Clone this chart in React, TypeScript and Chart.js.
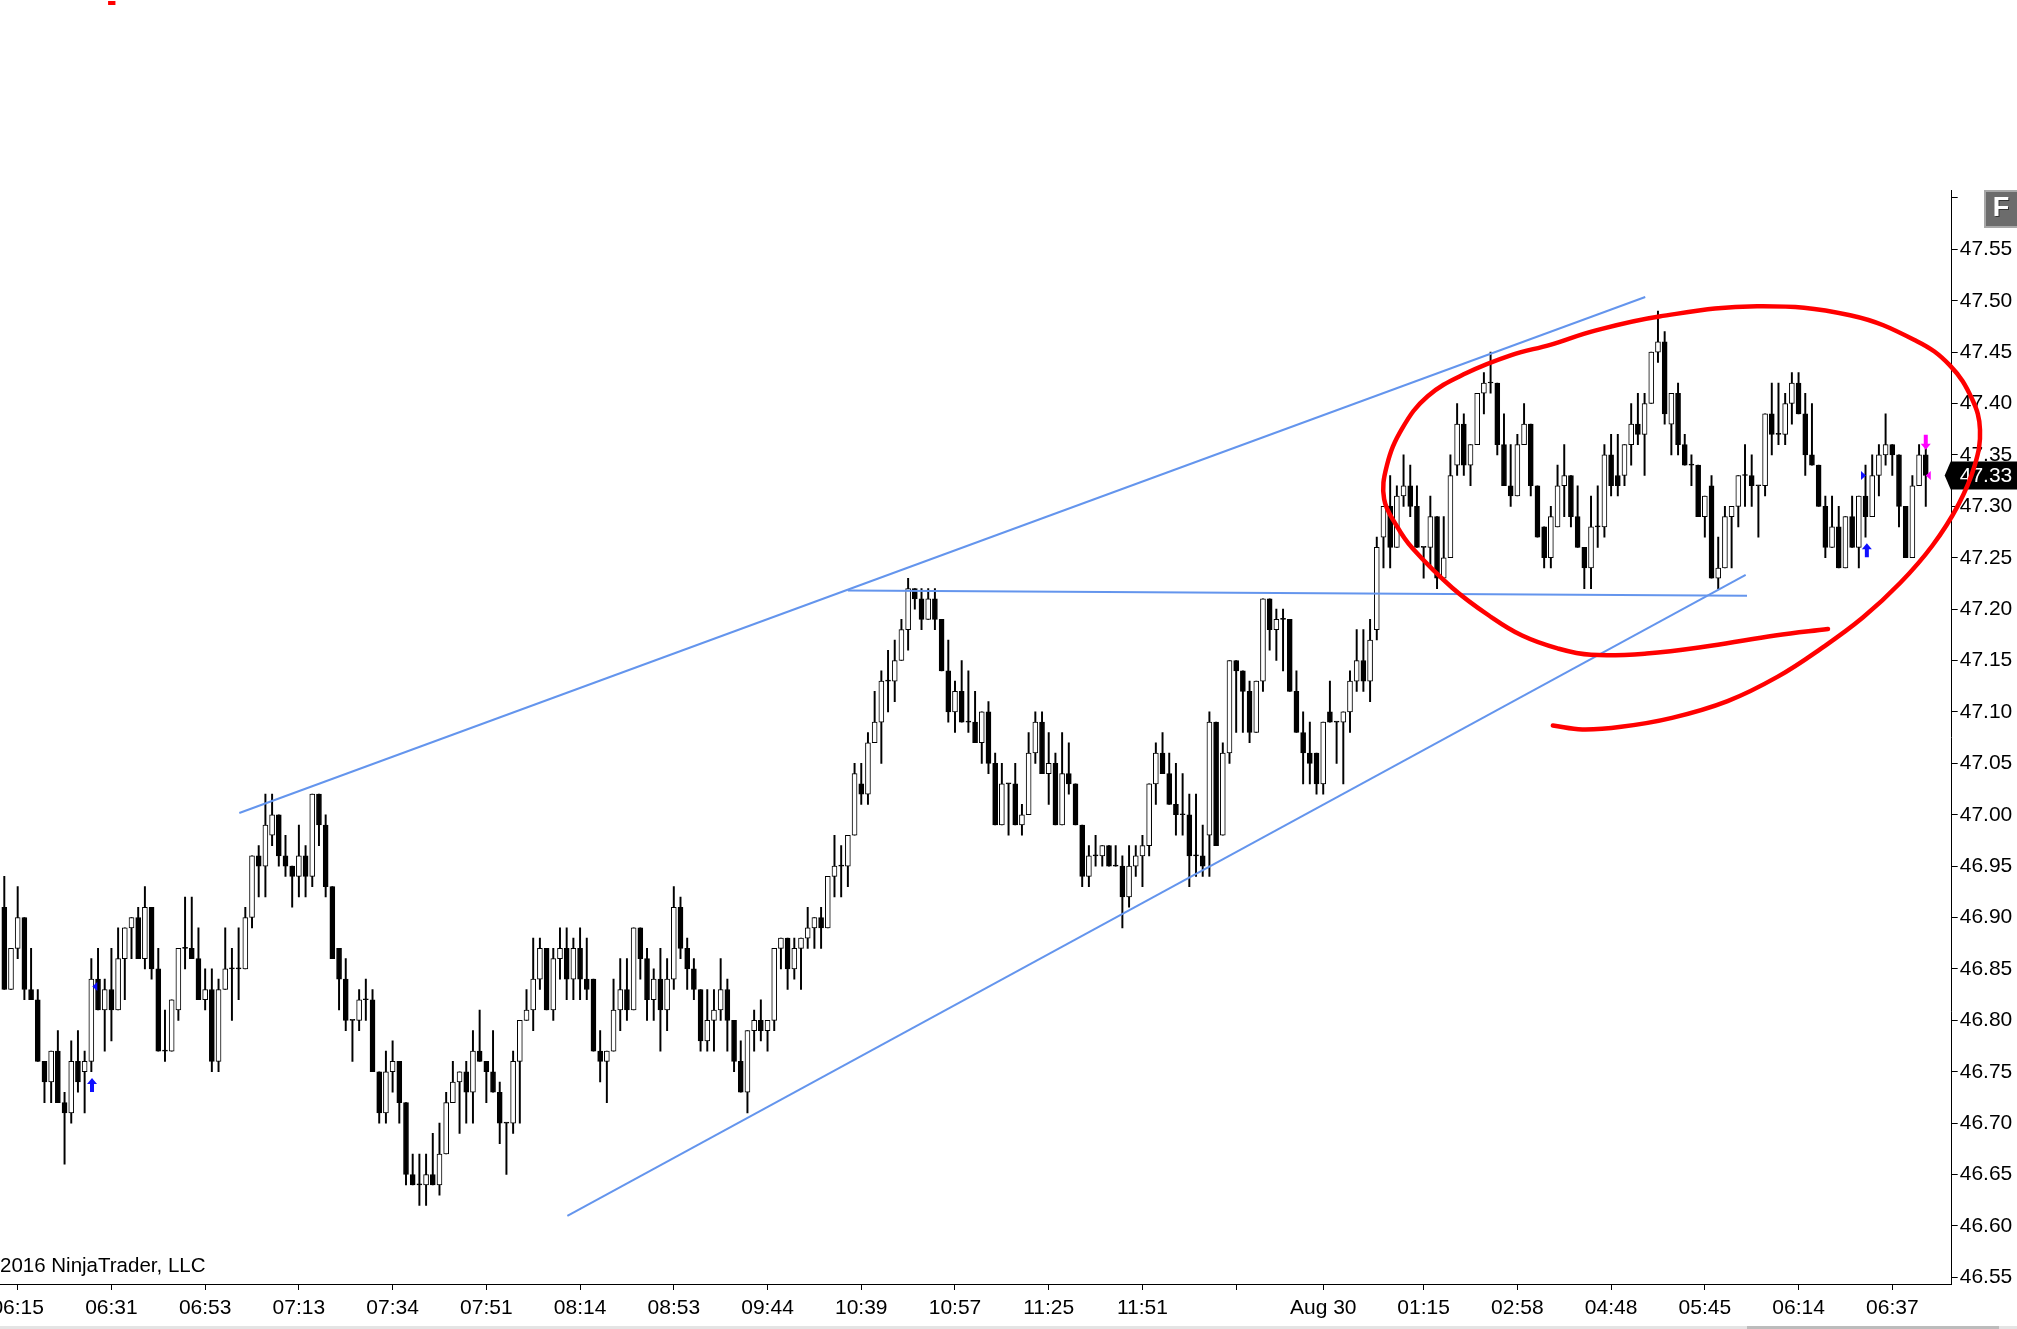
import React, { useEffect, useRef } from "react";
import { Chart, registerables } from "chart.js";

Chart.register(...registerables);

const FONT = "'Liberation Sans', Arial, Helvetica, sans-serif";

// ---------- candle data (CL, one bar per index) ----------
const opens = [
  46.91, 46.83, 46.87, 46.9, 46.83, 46.82, 46.76, 46.74, 46.77, 46.72,
  46.71, 46.76, 46.75, 46.76, 46.84, 46.81, 46.83, 46.81, 46.86, 46.89,
  46.9, 46.86, 46.91, 46.85, 46.77, 46.77, 46.81, 46.87, 46.87, 46.86,
  46.82, 46.83, 46.76, 46.83, 46.85, 46.85, 46.85, 46.9, 46.96, 46.95,
  46.98, 47.0, 46.96, 46.95, 46.94, 46.96, 46.94, 47.02, 46.99, 46.93,
  46.87, 46.84, 46.8, 46.8, 46.82, 46.82, 46.75, 46.71, 46.75, 46.76,
  46.72, 46.65, 46.64, 46.64, 46.65, 46.64, 46.67, 46.72, 46.74, 46.75,
  46.73, 46.77, 46.76, 46.75, 46.73, 46.7, 46.7, 46.76, 46.8, 46.81,
  46.84, 46.87, 46.81, 46.86, 46.87, 46.84, 46.87, 46.84, 46.84, 46.77,
  46.76, 46.77, 46.81, 46.83, 46.81, 46.89, 46.86, 46.82, 46.84, 46.81,
  46.84, 46.91, 46.87, 46.85, 46.83, 46.78, 46.8, 46.81, 46.83, 46.8,
  46.76, 46.73, 46.79, 46.8, 46.79, 46.8, 46.87, 46.88, 46.85, 46.87,
  46.88, 46.89, 46.9, 46.89, 46.94, 46.95, 46.95, 46.98, 47.03, 47.02,
  47.07, 47.09, 47.13, 47.13, 47.15, 47.18, 47.22, 47.21, 47.19, 47.21,
  47.19, 47.14, 47.1, 47.12, 47.09, 47.09, 47.07, 47.1, 47.05, 46.99,
  47.03, 47.03, 46.99, 47.0, 47.06, 47.09, 47.04, 47.05, 46.99, 47.04,
  47.03, 46.99, 46.94, 46.96, 46.96, 46.97, 46.95, 46.95, 46.92, 46.95,
  46.96, 46.97, 47.03, 47.06, 47.04, 47.01, 47.0, 47.0, 46.96, 46.96,
  46.98, 47.09, 46.98, 47.06, 47.15, 47.14, 47.12, 47.08, 47.13, 47.21,
  47.18, 47.19, 47.19, 47.12, 47.08, 47.06, 47.06, 47.03, 47.1, 47.09,
  47.09, 47.1, 47.13, 47.15, 47.13, 47.18, 47.27, 47.3, 47.26, 47.31,
  47.32, 47.3, 47.26, 47.26, 47.29, 47.23, 47.25, 47.34, 47.38, 47.34,
  47.36, 47.41, 47.42, 47.42, 47.36, 47.32, 47.31, 47.36, 47.38, 47.32,
  47.28, 47.25, 47.28, 47.32, 47.33, 47.29, 47.26, 47.24, 47.28, 47.28,
  47.35, 47.33, 47.33, 47.36, 47.38, 47.37, 47.4, 47.45, 47.46, 47.38,
  47.41, 47.36, 47.34, 47.34, 47.29, 47.32, 47.23, 47.24, 47.29, 47.3,
  47.33, 47.33, 47.32, 47.32, 47.39, 47.37, 47.37, 47.4, 47.42, 47.39,
  47.35, 47.34, 47.3, 47.26, 47.28, 47.24, 47.29, 47.26, 47.31, 47.29,
  47.33, 47.35, 47.36, 47.35, 47.3, 47.25, 47.32, 47.35,
];

const highs = [
  46.94, 46.87, 46.93, 46.9, 46.87, 46.83, 46.76, 46.77, 46.79, 46.73,
  46.78, 46.79, 46.77, 46.86, 46.87, 46.84, 46.87, 46.89, 46.89, 46.9,
  46.91, 46.93, 46.91, 46.87, 46.81, 46.82, 46.87, 46.92, 46.92, 46.89,
  46.85, 46.85, 46.84, 46.89, 46.87, 46.89, 46.91, 46.96, 46.97, 47.02,
  47.02, 47.0, 46.98, 46.95, 46.99, 46.97, 47.02, 47.02, 47.0, 46.93,
  46.87, 46.86, 46.8, 46.83, 46.84, 46.83, 46.75, 46.77, 46.78, 46.76,
  46.72, 46.67, 46.67, 46.67, 46.69, 46.7, 46.73, 46.76, 46.75, 46.76,
  46.79, 46.81, 46.76, 46.79, 46.74, 46.7, 46.77, 46.8, 46.83, 46.88,
  46.88, 46.87, 46.87, 46.89, 46.89, 46.88, 46.89, 46.88, 46.84, 46.79,
  46.77, 46.84, 46.86, 46.86, 46.89, 46.89, 46.87, 46.85, 46.87, 46.86,
  46.93, 46.92, 46.88, 46.86, 46.83, 46.83, 46.83, 46.86, 46.84, 46.8,
  46.78, 46.79, 46.81, 46.82, 46.8, 46.87, 46.88, 46.88, 46.88, 46.88,
  46.91, 46.9, 46.91, 46.94, 46.98, 46.97, 46.98, 47.05, 47.05, 47.08,
  47.12, 47.14, 47.16, 47.17, 47.19, 47.23, 47.22, 47.22, 47.22, 47.22,
  47.19, 47.17, 47.13, 47.15, 47.14, 47.12, 47.1, 47.11, 47.06, 47.05,
  47.03, 47.05, 47.01, 47.08, 47.1, 47.1, 47.08, 47.06, 47.08, 47.07,
  47.03, 46.99, 46.97, 46.98, 46.97, 46.97, 46.97, 46.96, 46.97, 46.97,
  46.98, 47.03, 47.07, 47.08, 47.06, 47.05, 47.04, 47.02, 47.02, 46.99,
  47.1, 47.09, 47.07, 47.15, 47.15, 47.14, 47.13, 47.13, 47.21, 47.21,
  47.2, 47.2, 47.19, 47.14, 47.1, 47.09, 47.06, 47.09, 47.13, 47.09,
  47.1, 47.14, 47.18, 47.18, 47.19, 47.27, 47.3, 47.33, 47.32, 47.35,
  47.34, 47.32, 47.26, 47.31, 47.29, 47.29, 47.35, 47.4, 47.39, 47.36,
  47.41, 47.43, 47.45, 47.42, 47.39, 47.36, 47.37, 47.4, 47.38, 47.32,
  47.28, 47.3, 47.34, 47.36, 47.33, 47.32, 47.26, 47.31, 47.32, 47.36,
  47.37, 47.37, 47.36, 47.4, 47.41, 47.41, 47.45, 47.49, 47.47, 47.41,
  47.42, 47.37, 47.35, 47.34, 47.31, 47.33, 47.27, 47.3, 47.3, 47.33,
  47.36, 47.35, 47.32, 47.39, 47.42, 47.42, 47.41, 47.43, 47.43, 47.41,
  47.4, 47.34, 47.31, 47.31, 47.3, 47.29, 47.31, 47.31, 47.34, 47.35,
  47.36, 47.39, 47.36, 47.35, 47.3, 47.33, 47.36, 47.36,
];

const lows = [
  46.83, 46.83, 46.86, 46.82, 46.82, 46.76, 46.72, 46.72, 46.72, 46.66,
  46.7, 46.73, 46.71, 46.75, 46.81, 46.77, 46.78, 46.81, 46.82, 46.86,
  46.86, 46.85, 46.84, 46.77, 46.76, 46.77, 46.8, 46.85, 46.86, 46.82,
  46.81, 46.75, 46.75, 46.83, 46.8, 46.82, 46.85, 46.89, 46.92, 46.92,
  46.97, 46.95, 46.94, 46.91, 46.92, 46.92, 46.93, 46.97, 46.92, 46.86,
  46.81, 46.79, 46.76, 46.79, 46.8, 46.75, 46.7, 46.7, 46.73, 46.7,
  46.64, 46.64, 46.62, 46.62, 46.64, 46.63, 46.67, 46.72, 46.69, 46.7,
  46.7, 46.76, 46.72, 46.73, 46.68, 46.65, 46.69, 46.7, 46.8, 46.79,
  46.83, 46.81, 46.8, 46.84, 46.82, 46.82, 46.82, 46.82, 46.77, 46.74,
  46.72, 46.77, 46.79, 46.8, 46.81, 46.84, 46.8, 46.8, 46.77, 46.79,
  46.83, 46.86, 46.83, 46.82, 46.77, 46.77, 46.77, 46.8, 46.77, 46.75,
  46.73, 46.71, 46.77, 46.78, 46.77, 46.79, 46.85, 46.83, 46.84, 46.83,
  46.87, 46.87, 46.87, 46.89, 46.92, 46.92, 46.93, 46.98, 47.01, 47.01,
  47.07, 47.05, 47.1, 47.11, 47.15, 47.16, 47.2, 47.18, 47.19, 47.18,
  47.14, 47.09, 47.08, 47.09, 47.08, 47.07, 47.05, 47.04, 46.99, 46.99,
  46.98, 46.99, 46.98, 47.0, 47.05, 47.04, 47.01, 46.99, 46.99, 47.02,
  46.99, 46.93, 46.93, 46.95, 46.95, 46.95, 46.95, 46.89, 46.91, 46.94,
  46.93, 46.96, 47.01, 47.04, 47.01, 46.98, 46.98, 46.93, 46.94, 46.94,
  46.94, 46.97, 46.98, 47.05, 47.08, 47.08, 47.07, 47.08, 47.12, 47.16,
  47.15, 47.14, 47.12, 47.08, 47.03, 47.03, 47.02, 47.02, 47.09, 47.05,
  47.03, 47.08, 47.12, 47.12, 47.11, 47.17, 47.24, 47.24, 47.26, 47.3,
  47.29, 47.26, 47.23, 47.24, 47.22, 47.23, 47.25, 47.33, 47.33, 47.32,
  47.36, 47.39, 47.41, 47.35, 47.32, 47.3, 47.31, 47.36, 47.31, 47.27,
  47.24, 47.24, 47.28, 47.29, 47.28, 47.26, 47.22, 47.22, 47.26, 47.27,
  47.31, 47.31, 47.32, 47.34, 47.36, 47.33, 47.4, 47.44, 47.38, 47.35,
  47.35, 47.34, 47.32, 47.29, 47.27, 47.23, 47.22, 47.24, 47.24, 47.28,
  47.3, 47.3, 47.27, 47.31, 47.35, 47.36, 47.36, 47.38, 47.39, 47.33,
  47.34, 47.3, 47.25, 47.26, 47.24, 47.24, 47.26, 47.24, 47.27, 47.29,
  47.31, 47.34, 47.33, 47.28, 47.25, 47.25, 47.32, 47.3,
];

const closes = [
  46.83, 46.87, 46.9, 46.83, 46.82, 46.76, 46.74, 46.77, 46.72, 46.71,
  46.76, 46.74, 46.76, 46.84, 46.81, 46.83, 46.81, 46.86, 46.89, 46.9,
  46.86, 46.91, 46.85, 46.77, 46.77, 46.82, 46.87, 46.87, 46.86, 46.82,
  46.83, 46.76, 46.83, 46.85, 46.85, 46.85, 46.9, 46.96, 46.95, 46.99,
  47.0, 46.96, 46.95, 46.94, 46.96, 46.94, 47.02, 46.99, 46.93, 46.86,
  46.84, 46.8, 46.8, 46.82, 46.82, 46.75, 46.71, 46.75, 46.76, 46.72,
  46.65, 46.64, 46.64, 46.65, 46.64, 46.67, 46.72, 46.74, 46.75, 46.73,
  46.77, 46.76, 46.75, 46.73, 46.7, 46.7, 46.76, 46.8, 46.81, 46.84,
  46.87, 46.81, 46.86, 46.87, 46.84, 46.87, 46.84, 46.83, 46.77, 46.76,
  46.77, 46.81, 46.83, 46.81, 46.89, 46.86, 46.82, 46.84, 46.81, 46.84,
  46.91, 46.87, 46.85, 46.83, 46.78, 46.8, 46.81, 46.83, 46.8, 46.76,
  46.73, 46.79, 46.8, 46.79, 46.8, 46.87, 46.88, 46.85, 46.87, 46.88,
  46.89, 46.9, 46.89, 46.94, 46.95, 46.95, 46.98, 47.04, 47.02, 47.07,
  47.09, 47.13, 47.13, 47.15, 47.18, 47.22, 47.21, 47.19, 47.21, 47.19,
  47.14, 47.1, 47.12, 47.09, 47.09, 47.07, 47.1, 47.05, 46.99, 47.03,
  47.03, 46.99, 47.0, 47.06, 47.09, 47.04, 47.05, 46.99, 47.04, 47.03,
  46.99, 46.94, 46.96, 46.96, 46.97, 46.95, 46.95, 46.92, 46.95, 46.96,
  46.97, 47.03, 47.06, 47.04, 47.01, 47.0, 47.0, 46.96, 46.96, 46.95,
  47.09, 46.97, 47.06, 47.15, 47.14, 47.12, 47.08, 47.13, 47.21, 47.18,
  47.19, 47.19, 47.12, 47.08, 47.06, 47.05, 47.03, 47.09, 47.09, 47.09,
  47.1, 47.13, 47.15, 47.13, 47.17, 47.26, 47.3, 47.26, 47.31, 47.32,
  47.3, 47.26, 47.26, 47.29, 47.23, 47.25, 47.33, 47.38, 47.34, 47.36,
  47.41, 47.42, 47.42, 47.36, 47.32, 47.31, 47.36, 47.38, 47.32, 47.27,
  47.25, 47.29, 47.32, 47.33, 47.29, 47.26, 47.24, 47.28, 47.28, 47.35,
  47.32, 47.32, 47.36, 47.38, 47.37, 47.4, 47.45, 47.46, 47.39, 47.41,
  47.36, 47.34, 47.34, 47.29, 47.31, 47.23, 47.24, 47.29, 47.3, 47.33,
  47.33, 47.32, 47.32, 47.39, 47.37, 47.37, 47.4, 47.42, 47.39, 47.35,
  47.34, 47.3, 47.26, 47.28, 47.24, 47.29, 47.26, 47.31, 47.29, 47.33,
  47.35, 47.36, 47.35, 47.3, 47.25, 47.32, 47.35, 47.33,
];

// ---------- axes ----------
const timeTickIndex = [2, 16, 30, 44, 58, 72, 86, 100, 114, 128, 142, 156, 170, 184, 197, 212, 226, 240, 254, 268, 282];
const timeTickLabels = [
  "06:15", "06:31", "06:53", "07:13", "07:34", "07:51", "08:14", "08:53", "09:44", "10:39",
  "10:57", "11:25", "11:51", "", "Aug 30", "01:15", "02:58", "04:48", "05:45", "06:14", "06:37",
];
const priceTicks = [
  46.55, 46.6, 46.65, 46.7, 46.75, 46.8, 46.85, 46.9, 46.95, 47.0, 47.05,
  47.1, 47.15, 47.2, 47.25, 47.3, 47.35, 47.4, 47.45, 47.5, 47.55, 47.6,
];
const priceTickLabels = [
  "46.55", "46.60", "46.65", "46.70", "46.75", "46.80", "46.85", "46.90", "46.95", "47.00", "47.05",
  "47.10", "47.15", "47.20", "47.25", "47.30", "47.35", "47.40", "47.45", "47.50", "47.55", "",
];

// ---------- drawings (bar index, price) ----------
const upperTrendX = [35.1, 245.1];
const upperTrendY = [47.0017, 47.5036];
const flatLineX = [126.0, 260.3];
const flatLineY = [47.218, 47.213];
const lowerTrendX = [84.1, 260.1];
const lowerTrendY = [46.6098, 47.2334];

const ellipseX = [
  272.4, 264.5, 254.9, 245.3, 237.0, 232.0, 226.7, 222.2, 216.3, 210.3, 208.0, 206.1, 206.5,
  208.8, 212.6, 218.4, 225.1, 230.9, 237.6, 247.2, 261.8, 275.7, 285.6, 290.6, 293.9, 295.1,
  294.3, 291.8, 288.0, 283.2, 277.6, 271.4, 264.9, 257.4, 249.1, 241.5, 235.7, 231.3,
];
const ellipseY = [
  47.1806, 47.1743, 47.1643, 47.1568, 47.1555, 47.1618, 47.1743, 47.1918, 47.2206, 47.2594,
  47.2807, 47.307, 47.3395, 47.3758, 47.4071, 47.4296, 47.4471, 47.4571, 47.4709, 47.4847,
  47.4947, 47.4859, 47.4609, 47.4371, 47.4046, 47.3745, 47.3395, 47.3007, 47.2619, 47.2256,
  47.1918, 47.1618, 47.1343, 47.1105, 47.0942, 47.0855, 47.083, 47.0867,
];
const redTickX = [15.5, 16.6];
const redTickY = [47.7896, 47.7896];

// execution markers: bar index, price, kind, colour
const markerIdx = [13.1, 13.15, 278.07, 278.2, 287.0, 287.0];
const markerPrice = [46.744, 46.833, 47.33, 47.264, 47.355, 47.33];
const markerKind = ["up", "left", "right", "up", "down", "left"];
const markerColor = ["#1010ff", "#1010ff", "#1010ff", "#1010ff", "#ff00ff", "#ff00ff"];

const barIdx = opens.map((_, i) => i);
const pts = (xs: number[], ys: number[]) => xs.map((x, i) => ({ x, y: ys[i] }));

const decorPlugin = {
  id: "decor",
  beforeDatasetsDraw(chart: any) {
    const ctx = chart.ctx;
    const ys = chart.scales.y;
    const right = chart.chartArea.right;
    const W = chart.width;
    ctx.save();
    // last price tag
    const last = closes[closes.length - 1];
    const py = ys.getPixelForValue(last);
    ctx.fillStyle = "#000";
    ctx.beginPath();
    ctx.moveTo(right - 7, py);
    ctx.lineTo(right - 1, py - 14);
    ctx.lineTo(W, py - 14);
    ctx.lineTo(W, py + 14);
    ctx.lineTo(right - 1, py + 14);
    ctx.closePath();
    ctx.fill();
    ctx.fillStyle = "#fff";
    ctx.font = `21px ${FONT}`;
    ctx.textBaseline = "middle";
    ctx.textAlign = "left";
    ctx.fillText(last.toFixed(2), right + 8, py + 1);
    // "F" box
    const top = chart.chartArea.top;
    ctx.fillStyle = "#a8a8a8";
    ctx.fillRect(1984, top, 33, 38);
    ctx.fillStyle = "#6c6c6c";
    ctx.fillRect(1986, top + 2, 31, 34);
    ctx.font = `bold 27px ${FONT}`;
    ctx.textAlign = "center";
    ctx.fillStyle = "#333";
    ctx.fillText("F", 2002, top + 20);
    ctx.fillStyle = "#fff";
    ctx.fillText("F", 2001, top + 19);
    ctx.restore();
  },
  afterDatasetsDraw(chart: any) {
    const ctx = chart.ctx;
    const xs = chart.scales.x;
    const ys = chart.scales.y;
    ctx.save();
    for (let i = 0; i < markerIdx.length; i++) {
      const x = xs.getPixelForValue(markerIdx[i]);
      const y = ys.getPixelForValue(markerPrice[i]);
      ctx.fillStyle = markerColor[i];
      ctx.beginPath();
      const k = markerKind[i];
      if (k === "up") {
        ctx.moveTo(x, y);
        ctx.lineTo(x + 5, y + 6);
        ctx.lineTo(x + 2, y + 6);
        ctx.lineTo(x + 2, y + 14);
        ctx.lineTo(x - 2, y + 14);
        ctx.lineTo(x - 2, y + 6);
        ctx.lineTo(x - 5, y + 6);
      } else if (k === "down") {
        ctx.moveTo(x, y);
        ctx.lineTo(x + 5, y - 6);
        ctx.lineTo(x + 2, y - 6);
        ctx.lineTo(x + 2, y - 15);
        ctx.lineTo(x - 2, y - 15);
        ctx.lineTo(x - 2, y - 6);
        ctx.lineTo(x - 5, y - 6);
      } else if (k === "left") {
        ctx.moveTo(x, y);
        ctx.lineTo(x + 5, y - 4.5);
        ctx.lineTo(x + 5, y + 4.5);
      } else {
        ctx.moveTo(x, y);
        ctx.lineTo(x - 5, y - 4.5);
        ctx.lineTo(x - 5, y + 4.5);
      }
      ctx.closePath();
      ctx.fill();
    }
    ctx.restore();
  },
  afterDraw(chart: any) {
    const ctx = chart.ctx;
    ctx.save();
    ctx.font = `20.5px ${FONT}`;
    ctx.fillStyle = "#000";
    ctx.textBaseline = "alphabetic";
    ctx.textAlign = "left";
    const pre = ctx.measureText("\u00A9 ").width;
    ctx.fillText("\u00A9 2016 NinjaTrader, LLC", -pre, 1272);
    ctx.fillStyle = "#e4e4e4";
    ctx.fillRect(0, chart.height - 3, chart.width, 3);
    ctx.fillStyle = "#bcbcbc";
    ctx.fillRect(1747, chart.height - 3, 252, 3);
    ctx.restore();
  },
};

export default function App() {
  const ref = useRef<HTMLCanvasElement>(null);

  useEffect(() => {
    const lineStyle = (color: string, width: number) => ({
      type: "line" as const,
      borderColor: color,
      backgroundColor: color,
      borderWidth: width,
      pointRadius: 0,
      pointHoverRadius: 0,
      fill: false,
    });

    const chart = new Chart(ref.current as HTMLCanvasElement, {
      type: "bar",
      data: {
        datasets: [
          {
            ...lineStyle("#ff0000", 4.5),
            label: "circle",
            data: pts(ellipseX, ellipseY),
            tension: 0.4,
            clip: false,
            borderCapStyle: "round",
            borderJoinStyle: "round",
            order: -2,
          } as any,
          {
            ...lineStyle("#ff0000", 4),
            label: "mark",
            data: pts(redTickX, redTickY),
            clip: false,
            order: -2,
          } as any,
          { ...lineStyle("#6495ed", 2), label: "upper", data: pts(upperTrendX, upperTrendY), order: 0 } as any,
          { ...lineStyle("#6495ed", 2), label: "flat", data: pts(flatLineX, flatLineY), order: 0 } as any,
          { ...lineStyle("#6495ed", 2), label: "lower", data: pts(lowerTrendX, lowerTrendY), order: 0 } as any,
          {
            type: "bar",
            label: "body",
            data: barIdx.map((i) => ({ x: i, y: [Math.min(opens[i], closes[i]), Math.max(opens[i], closes[i])] })),
            backgroundColor: barIdx.map((i) => (closes[i] > opens[i] ? "#ffffff" : "#000000")),
            borderColor: "#000000",
            borderWidth: 1,
            borderSkipped: false,
            barThickness: 5,
            minBarLength: 1,
            grouped: false,
            order: 1,
          } as any,
          {
            type: "bar",
            label: "wick",
            data: barIdx.map((i) => ({ x: i, y: [lows[i], highs[i]] })),
            backgroundColor: "#000000",
            borderWidth: 0,
            barThickness: 1.3,
            grouped: false,
            order: 2,
          } as any,
        ],
      },
      options: {
        responsive: true,
        maintainAspectRatio: false,
        animation: false,
        devicePixelRatio: 1,
        events: [],
        layout: { padding: { top: 190, left: 0, right: 0, bottom: 0 } },
        plugins: { legend: { display: false }, tooltip: { enabled: false } },
        scales: {
          x: {
            type: "linear",
            bounds: "data",
            min: -0.6423,
            max: 290.873,
            offset: false,
            afterBuildTicks: (scale: any) => {
              scale.ticks = timeTickIndex.map((v) => ({ value: v }));
            },
            afterFit: (scale: any) => {
              scale.height = 45;
              scale.paddingLeft = 0;
              scale.paddingRight = 0;
            },
            ticks: {
              autoSkip: false,
              maxRotation: 0,
              minRotation: 0,
              padding: 6,
              color: "#000",
              font: { family: FONT, size: 21 },
              callback: (v: any) => {
                const k = timeTickIndex.indexOf(Number(v));
                return k >= 0 ? timeTickLabels[k] : "";
              },
            },
            grid: { display: true, drawOnChartArea: false, drawTicks: true, tickLength: 6, color: "#000", offset: false },
            border: { display: true, color: "#000", width: 1 },
          },
          y: {
            type: "linear",
            position: "right",
            bounds: "data",
            min: 46.5435,
            max: 47.6077,
            afterBuildTicks: (scale: any) => {
              scale.ticks = priceTicks.map((v) => ({ value: v }));
            },
            afterFit: (scale: any) => {
              scale.width = 65.3;
              scale.paddingTop = 0;
              scale.paddingBottom = 0;
            },
            ticks: {
              autoSkip: false,
              padding: 2,
              color: "#000",
              font: { family: FONT, size: 21 },
              callback: (v: any) => {
                let best = 0;
                for (let i = 1; i < priceTicks.length; i++) {
                  if (Math.abs(priceTicks[i] - Number(v)) < Math.abs(priceTicks[best] - Number(v))) best = i;
                }
                return priceTickLabels[best];
              },
            },
            grid: { display: true, drawOnChartArea: false, drawTicks: true, tickLength: 6, color: "#000" },
            border: { display: true, color: "#000", width: 1 },
          },
        },
      } as any,
      plugins: [decorPlugin],
    });
    return () => chart.destroy();
  }, []);

  return (
    <div style={{ position: "absolute", left: 0, top: 0, width: 2017, height: 1329, background: "#fff", overflow: "hidden" }}>
      <canvas ref={ref} />
    </div>
  );
}
